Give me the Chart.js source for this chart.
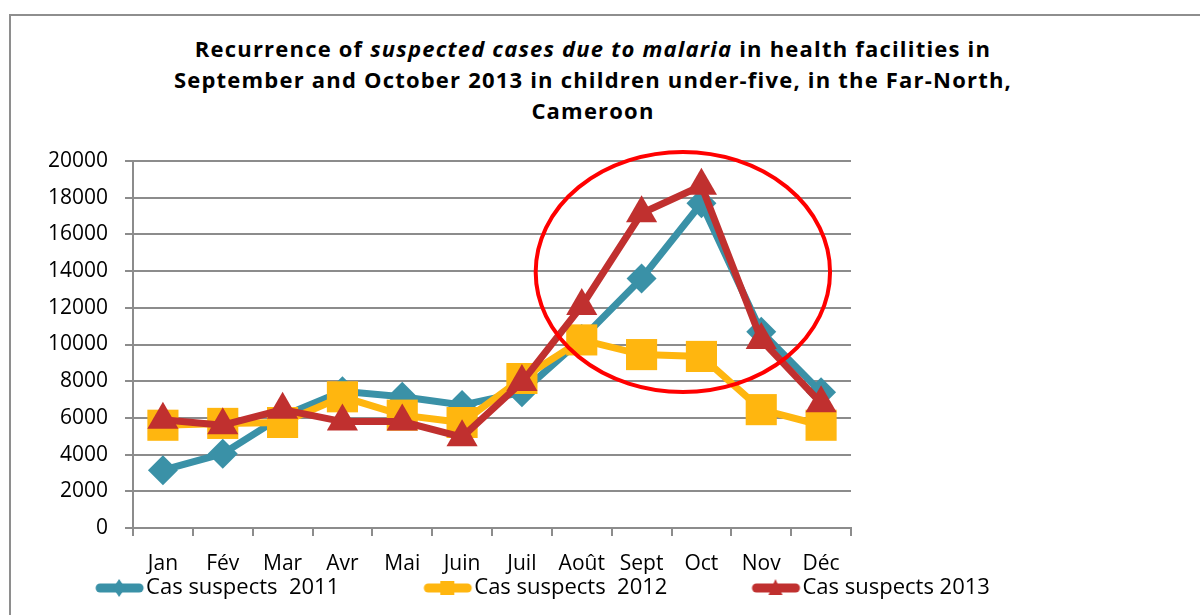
<!DOCTYPE html>
<html><head><meta charset="utf-8">
<script src="https://cdn.jsdelivr.net/npm/chart.js@4.4.1/dist/chart.umd.min.js"></script>
<style>
html,body{margin:0;padding:0;background:#fff;width:1200px;height:615px;overflow:hidden;}
#frame{position:absolute;left:9px;top:14px;width:1300px;height:700px;border:2px solid #8e8e8e;}
#title{position:absolute;left:93px;width:1000px;top:33px;text-align:center;font-family:'Open Sans',sans-serif;font-weight:bold;font-size:22px;letter-spacing:1.2px;line-height:31px;color:#000;}
#c{position:absolute;left:0;top:0;}
</style></head><body>
<div id="frame"></div>
<div id="title">Recurrence of <i>suspected cases due to malaria</i> in health facilities in<br>September and October 2013 in children under-five, in the Far-North,<br>Cameroon</div>
<canvas id="c" width="1004" height="615"></canvas>
<script>
const months = ['Jan','Fév','Mar','Avr','Mai','Juin','Juil','Août','Sept','Oct','Nov','Déc'];
const seriesLabels = ['Cas suspects  2011','Cas suspects  2012','Cas suspects 2013'];
const cas2011 = [3150, 4050, 6100, 7450, 7150, 6700, 7400, 10300, 13600, 17700, 10700, 7400];
const cas2012 = [5600, 5700, 5750, 7150, 6150, 5750, 8150, 10250, 9450, 9350, 6450, 5600];
const cas2013 = [5900, 5600, 6450, 5800, 5800, 4950, 7950, 12100, 17150, 18650, 10250, 6800];
const yTicks = {min: 0, max: 20000, step: 2000};
const highlight = {xIndex: 8.69, yValue: 13950, xRadius: 2.46, yRadius: 6540};

const TEAL = '#3A91A7', YELLOW = '#FFB60F', RED = '#C0302F';
const W = 1004;
const FONT = "'Open Sans'";

function makeSymbol(color, kind){
  const c = document.createElement('canvas');
  c.width = 141; c.height = 24;
  const g = c.getContext('2d');
  g.strokeStyle = color; g.fillStyle = color; g.lineWidth = 9; g.lineCap = 'round';
  g.beginPath(); g.moveTo(96, 12); g.lineTo(135, 12); g.stroke();
  const cx = 115, cy = 12;
  g.beginPath();
  if (kind === 'diamond'){ g.moveTo(cx, cy-9); g.lineTo(cx+6, cy); g.lineTo(cx, cy+9); g.lineTo(cx-6, cy); }
  else if (kind === 'square'){ g.rect(cx-7, cy-7, 14, 14); }
  else { g.moveTo(cx, cy-9); g.lineTo(cx+7, cy+7); g.lineTo(cx-7, cy+7); }
  g.closePath(); g.fill();
  return c;
}
const symbols = [makeSymbol(TEAL,'diamond'), makeSymbol(YELLOW,'square'), makeSymbol(RED,'triangle')];

const ellipsePlugin = {
  id: 'ellipse',
  afterDatasetsDraw(chart){
    const {ctx, scales: {x, y}} = chart;
    const cx = x.getPixelForValue(highlight.xIndex);
    const cy = y.getPixelForValue(highlight.yValue);
    const rx = x.getPixelForValue(highlight.xIndex + highlight.xRadius) - cx;
    const ry = cy - y.getPixelForValue(highlight.yValue + highlight.yRadius);
    ctx.save();
    ctx.strokeStyle = '#FF0000'; ctx.lineWidth = 4;
    ctx.beginPath(); ctx.ellipse(cx, cy, rx, ry, 0, 0, Math.PI*2); ctx.stroke();
    ctx.restore();
  }
};

function ds(label, data, color, style, radius, order){
  return {label, data, borderColor: color, backgroundColor: color, pointBackgroundColor: color,
    pointBorderColor: color, pointBorderWidth: 0, pointStyle: style, pointRadius: radius,
    borderWidth: 7, tension: 0, order};
}

new Chart(document.getElementById('c'), {
  type: 'line',
  data: {
    labels: months,
    datasets: [
      ds(seriesLabels[0], cas2011, TEAL, 'rectRot', 15, 3),
      ds(seriesLabels[1], cas2012, YELLOW, 'rect', 22, 2),
      ds(seriesLabels[2], cas2013, RED, 'triangle', 18, 1)
    ]
  },
  options: {
    responsive: false, animation: false, events: [],
    layout: {padding: {top: 161, left: 0, bottom: 6, right: 0}},
    plugins: {
      tooltip: {enabled: false},
      title: {display: false},
      legend: {
        position: 'bottom',
        labels: {
          usePointStyle: true, pointStyleWidth: 121, padding: 3, color: '#000',
          font: {family: FONT, size: 22},
          generateLabels(chart){
            return chart.data.datasets.map((d, i) => ({
              text: d.label, fillStyle: d.borderColor, strokeStyle: d.borderColor,
              lineWidth: 0, pointStyle: symbols[i], datasetIndex: i, hidden: false, fontColor: '#000'
            }));
          }
        }
      }
    },
    scales: {
      x: {
        offset: true,
        grid: {offset: true, drawOnChartArea: false, drawTicks: true, tickLength: 8, color: '#8c8c8c', lineWidth: 2},
        border: {color: '#8c8c8c', width: 2},
        ticks: {color: '#000', font: {family: FONT, size: 21}, padding: 15, maxRotation: 0, autoSkip: false},
        afterFit(s){ s.height = 46; }
      },
      y: {
        min: yTicks.min, max: yTicks.max,
        ticks: {stepSize: yTicks.step, color: '#000', font: {family: FONT, size: 21}, padding: 17,
                callback: v => String(v)},
        grid: {color: '#8c8c8c', lineWidth: 2, tickLength: 8},
        border: {color: '#8c8c8c', width: 2},
        afterFit(s){ s.width = 133; }
      },
      yR: {
        position: 'right', display: true,
        grid: {display: false}, ticks: {display: false}, border: {display: false},
        afterFit(s){ s.width = W - 851; }
      }
    }
  },
  plugins: [ellipsePlugin]
});
</script>
</body></html>
